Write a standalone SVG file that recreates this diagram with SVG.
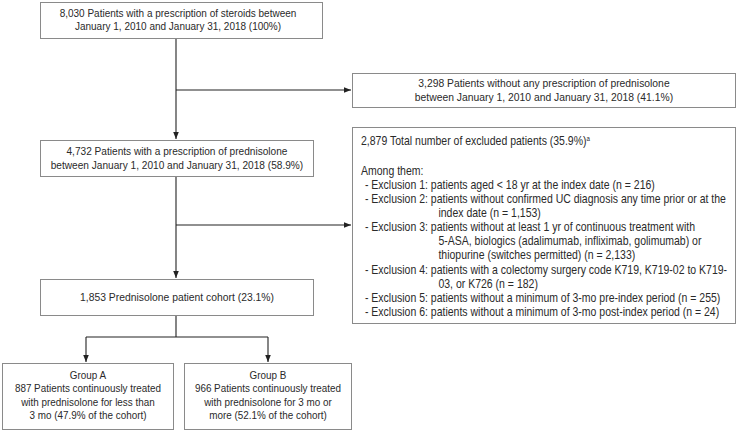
<svg xmlns="http://www.w3.org/2000/svg" width="743" height="431" viewBox="0 0 743 431">
<defs>
<marker id="arr" viewBox="0 0 10 10" refX="10" refY="5" markerWidth="7" markerHeight="7" markerUnits="userSpaceOnUse" orient="auto">
<path d="M0,1 L10,5 L0,9 z" fill="#222"/>
</marker>
<style>
text{font-family:"Liberation Sans",Arial,sans-serif;font-size:11.5px;fill:#2a2a2a}
.c{text-anchor:middle}
.big{font-size:12px}
.box{fill:#fff;stroke:#8a8a8a;stroke-width:1}
.ln{fill:none;stroke:#222;stroke-width:1.1}
.a{marker-end:url(#arr)}
</style>
</defs>
<rect width="743" height="431" fill="#fff"/>
<g id="connectors">
<path class="ln a" d="M176,38 V139"/>
<path class="ln a" d="M176,90 H351"/>
<path class="ln a" d="M176,176 V278"/>
<path class="ln a" d="M176,225 H351"/>
<path class="ln" d="M176,315 V337 M86,337 H268"/>
<path class="ln a" d="M86,337 V362"/>
<path class="ln a" d="M268,337 V362"/>
</g>
<g id="n1">
<rect class="box" x="40.5" y="2.5" width="282" height="36"/>
<g transform="scale(0.87 1)">
<text class="c" x="204.6" y="17">8,030 Patients with a prescription of steroids between</text>
<text class="c" x="204.6" y="30.5">January 1, 2010 and January 31, 2018 (100%)</text>
</g>
</g>
<g id="n2">
<rect class="box" x="352.5" y="73.5" width="383" height="34"/>
<g transform="scale(0.9 1)">
<text class="c" x="604.4" y="87.5">3,298 Patients without any prescription of prednisolone</text>
<text class="c" x="604.4" y="101">between January 1, 2010 and January 31, 2018 (41.1%)</text>
</g>
</g>
<g id="n3">
<rect class="box" x="40.5" y="140.5" width="273" height="36"/>
<g transform="scale(0.88 1)">
<text class="c" x="201.1" y="155.5">4,732 Patients with a prescription of prednisolone</text>
<text class="c" x="201.1" y="169">between January 1, 2010 and January 31, 2018 (58.9%)</text>
</g>
</g>
<g id="n4">
<rect class="box" x="352.5" y="127.5" width="383" height="196"/>
<g transform="scale(0.875 1)">
<text class="big" x="412.6" y="145">2,879 Total number of excluded patients (35.9%)<tspan font-size="7" dy="-4">a</tspan></text>
<text class="big" x="412.6" y="175">Among them:</text>
<text class="big" x="417.1" y="189">- Exclusion 1: patients aged &lt; 18 yr at the index date (n = 216)</text>
<text class="big" x="417.1" y="203.1">- Exclusion 2: patients without confirmed UC diagnosis any time prior or at the</text>
<text class="big" x="501.1" y="217.2">index date (n = 1,153)</text>
<text class="big" x="417.1" y="231.3">- Exclusion 3: patients without at least 1 yr of continuous treatment with</text>
<text class="big" x="501.1" y="245.4">5-ASA, biologics (adalimumab, infliximab, golimumab) or</text>
<text class="big" x="501.1" y="259.5">thiopurine (switches permitted) (n = 2,133)</text>
<text class="big" x="417.1" y="273.6">- Exclusion 4: patients with a colectomy surgery code K719, K719-02 to K719-</text>
<text class="big" x="501.1" y="287.7">03, or K726 (n = 182)</text>
<text class="big" x="417.1" y="301.8">- Exclusion 5: patients without a minimum of 3-mo pre-index period (n = 255)</text>
<text class="big" x="417.1" y="315.9">- Exclusion 6: patients without a minimum of 3-mo post-index period (n = 24)</text>
</g>
</g>
<g id="n5">
<rect class="box" x="40.5" y="279.5" width="273" height="36"/>
<g transform="scale(0.9 1)">
<text class="c" x="196.7" y="301.5">1,853 Prednisolone patient cohort (23.1%)</text>
</g>
</g>
<g id="n6">
<rect class="box" x="2.5" y="363.5" width="171" height="66"/>
<g transform="scale(0.86 1)">
<text class="c" x="102.3" y="379">Group A</text>
<text class="c" x="102.3" y="392.5">887 Patients continuously treated</text>
<text class="c" x="102.3" y="406">with prednisolone for less than</text>
<text class="c" x="102.3" y="419.5">3 mo (47.9% of the cohort)</text>
</g>
</g>
<g id="n7">
<rect class="box" x="184.5" y="363.5" width="167" height="66"/>
<g transform="scale(0.86 1)">
<text class="c" x="311.6" y="379">Group B</text>
<text class="c" x="311.6" y="392.5">966 Patients continuously treated</text>
<text class="c" x="311.6" y="406">with prednisolone for 3 mo or</text>
<text class="c" x="311.6" y="419.5">more (52.1% of the cohort)</text>
</g>
</g>
</svg>
